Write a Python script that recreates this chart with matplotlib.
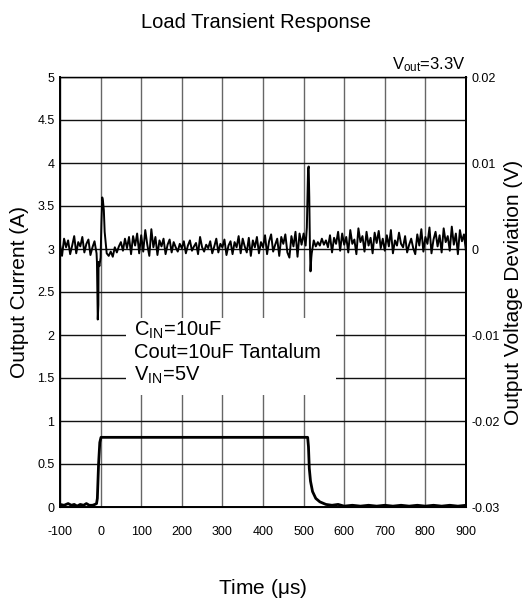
import numpy as np
import matplotlib
matplotlib.use("Agg")
import matplotlib.pyplot as plt
from matplotlib.patches import Rectangle

plt.rcParams['font.family'] = ['Liberation Sans', 'DejaVu Sans']
plt.rcParams['mathtext.default'] = 'regular'

# Output current (A) vs time (us)
current_t = [-100, -90, -80, -72, -65, -58, -50, -42, -35, -28, -20, -14, -10, -8, -5, -2, 1,
             510, 512, 514, 517, 522, 530, 540, 555, 570, 585, 600, 620, 640, 660, 680,
             700, 720, 740, 760, 780, 800, 820, 840, 860, 880, 900]
current_a = [0.03, 0.02, 0.04, 0.02, 0.03, 0.01, 0.03, 0.02, 0.04, 0.02, 0.02, 0.03, 0.04, 0.1, 0.5, 0.75, 0.81,
             0.81, 0.7, 0.45, 0.3, 0.18, 0.1, 0.06, 0.03, 0.02, 0.03, 0.01, 0.02, 0.01, 0.02, 0.01,
             0.02, 0.01, 0.02, 0.01, 0.02, 0.01, 0.02, 0.01, 0.02, 0.01, 0.02]

# Output voltage deviation (mV), sampled every 5 us from -100 to 900
noise_t = np.arange(-100, 905, 5)
noise_mv = [
    0.5, -0.8, 1.2, 0.2, 1.0, -0.6, 0.4, 1.5, -0.5, 0.8, 0.3, 1.4, -0.4, 0.6, 1.1, -0.7, 0.2, 0.9, -0.5, -1.5,
    -1.0, 5.8, 2.0, -0.5, -0.8, -0.3, -0.9, 0.2, -0.4, 0.3, 0.8, -0.2, 1.2, 0.1, 1.4, -0.6, 1.5, 0.4, 1.8, -0.5,
    1.6, -0.3, 2.2, 0.5, -0.8, 2.3, 0.2, 1.4, -0.7, 1.0, 0.3, 1.2, -0.6, 0.5, 1.1, -0.4, 0.8, 0.2, -0.3, 0.6,
    0.1, 0.9, -0.5, 0.4, 1.0, -0.2, 0.3, 0.7, -0.6, 1.4, 0.2, -0.3, 0.5, 0.1, 0.9, -0.5, 0.3, 1.2, -0.4, 0.6,
    0.2, 1.1, -0.7, 0.4, 0.9, -0.6, 0.8, 0.2, 1.5, -0.5, 1.2, 0.3, -0.4, 1.3, -0.8, 1.0, 0.2, 1.4, -0.5, 0.8,
    0.2, 1.6, -0.6, 0.9, 1.7, -0.3, 0.5, 1.2, -0.8, 1.4, 0.6, 1.7, -0.4, -1.0, 1.5, 0.3, 2.0, -0.9, 1.8, 0.5,
    1.8, 0.4, 7.0, 2.5, -0.5, 1.0, 0.3, 0.8, 0.4, 1.2, 0.5, 1.0, 0.2, 1.6, -0.4, 1.3, 0.6, 2.0, -0.2, 1.8,
    0.5, 1.4, -0.4, 2.2, 0.6, 1.1, -0.6, 2.4, 0.8, 1.5, -0.3, 2.0, 0.4, 1.3, -0.5, 1.9, 0.7, 2.1, 0.1, 1.2,
    -0.2, 1.6, 0.3, 2.2, -0.5, 1.0, 0.4, 1.9, 0.6, 0.2, 1.5, -0.4, 0.5, 1.2, 0.1, -0.6, 1.7, 0.4, 2.3, -0.3,
    1.4, 0.6, 2.5, -0.5, 1.1, 2.0, 0.3, 1.6, -0.4, 2.4, 0.8, 1.5, -0.2, 2.6, 0.5, 1.8, -0.6, 2.2, 0.9, 1.7, -0.3,
]
# extra samples around the two load steps
spike_t = [-9, -7, -5.5, -3, 2, 4, 6, 8, 11, 13, 508, 511, 512.5, 514, 515.5, 517, 519]
spike_mv = [-1.5, -8.2, -6.5, -2.0, 3.0, 6.0, 5.5, 4.5, 1.5, 0.5, 2.5, 9.3, 9.6, 6.0, 0.5, -2.6, -1.0]

volt_t = np.concatenate([noise_t, spike_t])
volt_v = np.concatenate([noise_mv, spike_mv]) / 1000.0
order = np.argsort(volt_t, kind='stable')
volt_t = volt_t[order]
volt_v = volt_v[order]

x_ticks = list(range(-100, 1000, 100))
y_ticks = [0, 0.5, 1, 1.5, 2, 2.5, 3, 3.5, 4, 4.5, 5]
y_tick_labels = ['0', '0.5', '1', '1.5', '2', '2.5', '3', '3.5', '4', '4.5', '5']
v_ticks = [-0.03, -0.02, -0.01, 0, 0.01, 0.02]
v_tick_labels = ['-0.03', '-0.02', '-0.01', '0', '0.01', '0.02']

fig = plt.figure(figsize=(5.22, 6.03), dpi=100)
ax = fig.add_axes([60 / 522, 1 - 507 / 603, 406 / 522, 430 / 603])

tick_font = dict(size=9)

ax.set_xlim(-100, 900)
ax.set_ylim(0, 5)
ax.set_xticks(x_ticks)
ax.set_xticklabels([str(v) for v in x_ticks], fontdict=tick_font)
ax.set_yticks(y_ticks)
ax.set_yticklabels(y_tick_labels, fontdict=tick_font)
ax.tick_params(axis='x', length=0, pad=14)
ax.tick_params(axis='y', length=0, pad=4)
ax.set_axisbelow(True)
ax.xaxis.grid(True, color='#666666', lw=1.0)
ax.yaxis.grid(True, color='#111111', lw=1.0)
for side in ['left', 'right', 'bottom']:
    ax.spines[side].set_linewidth(1.4)
ax.spines['top'].set_linewidth(1.0)
ax.spines['top'].set_color('#111111')

# white box behind the test conditions
ax.add_patch(Rectangle((62, 1.3), 518, 0.9, facecolor='white', edgecolor='none', zorder=1))

ax.plot(current_t, current_a, color='black', lw=2.0, zorder=3)

ax.text(82, 2.05, 'C$_{IN}$=10uF', fontsize=14.5, va='center', ha='left', zorder=4)
ax.text(82, 1.80, 'Cout=10uF Tantalum', fontsize=14.5, va='center', ha='left', zorder=4)
ax.text(82, 1.53, 'V$_{IN}$=5V', fontsize=14.5, va='center', ha='left', zorder=4)

ax.set_ylabel('Output Current (A)', fontsize=15)
ax.yaxis.set_label_coords(-0.077, 0.5)
ax.set_xlabel('Time ($\\mu$s)', fontsize=15)
ax.xaxis.set_label_coords(0.5, -0.163)
fig.text(256 / 522, 1 - 22 / 603, 'Load Transient Response', fontsize=14.5, ha='center', va='center')
ax.text(900, 5.03, 'V$_{out}$=3.3V', fontsize=12, ha='right', va='bottom')

ax2 = ax.twinx()
ax2.set_ylim(-0.03, 0.02)
ax2.set_yticks(v_ticks)
ax2.set_yticklabels(v_tick_labels, fontdict=tick_font)
ax2.tick_params(length=0, pad=4)
ax2.spines['right'].set_linewidth(1.4)
ax2.plot(volt_t, volt_v, color='black', lw=1.4)
ax2.set_ylabel('Output Voltage Deviation (V)', fontsize=15)
ax2.yaxis.set_label_coords(1.093, 0.5)

fig.savefig('out.png', dpi=100)
